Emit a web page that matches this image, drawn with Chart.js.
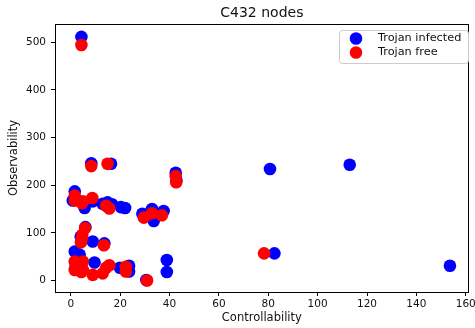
<!DOCTYPE html>
<html>
<head>
<meta charset="utf-8">
<script src="https://cdn.jsdelivr.net/npm/chart.js@4.4.1/dist/chart.umd.min.js"></script>
<style>
  html, body { margin: 0; padding: 0; background: #fff; }
  #wrap { width: 475px; height: 328px; }
</style>
</head>
<body>
<div id="wrap"><canvas id="grafico" width="475" height="328"></canvas></div>
<script>
// dati: [controllability, observability]
var infetti = [
  [4.3, 511], [8.3, 246], [16.3, 245], [42.5, 226], [42.8, 210], [80.7, 234], [113, 243],
  [1.6, 187], [0.8, 168], [5.6, 152], [8.9, 166], [12.9, 161], [14.9, 164], [16.7, 160],
  [20.3, 154], [22, 152], [29, 140], [32.9, 150], [33.6, 125], [37.6, 146],
  [5.9, 112], [4, 92], [8.9, 82], [13.6, 78],
  [1.6, 61], [3.6, 54], [9.6, 38], [19.9, 27], [23.6, 31], [23.6, 19],
  [38.9, 43], [38.9, 18], [82.5, 57], [153.6, 31], [30.6, 1], [2, 30], [4.3, 35]
];
var liberi = [
  [4.3, 494], [8.3, 240], [14.9, 245], [42.5, 219], [42.7, 206],
  [1.6, 178], [1.6, 168], [4.9, 166], [8.7, 173], [4.5, 162], [14.3, 157], [15.6, 151],
  [29.6, 132], [32.9, 141], [36.9, 137],
  [5.8, 110], [4.7, 96], [4.3, 85], [4.1, 80], [13.4, 74],
  [1.6, 40], [4.9, 40], [1.6, 22], [4.9, 22], [3.3, 30], [4.3, 18], [8.9, 12],
  [12.9, 15], [14.3, 27], [15.6, 32], [22.3, 29], [22.3, 19],
  [30.9, 0], [78.3, 57]
];
var tickX = [0, 20, 40, 60, 80, 100, 120, 140, 160];
var tickY = [0, 100, 200, 300, 400, 500];
var nomiSerie = ['Trojan infected', 'Trojan free'];
var titolo = 'C432 nodes';

var FONT = 'DejaVu Sans';
var BLU = '#0000ff';
var ROSSO = '#ff0000';

function punti(arr) {
  return arr.map(p => ({ x: p[0], y: p[1] }));
}

// titolo, cornice e legenda disegnati a mano (come matplotlib)
var extra = {
  id: 'extra',
  afterDraw: function (chart) {
    var ctx = chart.ctx;
    var a = chart.chartArea;
    ctx.save();
    ctx.strokeStyle = '#000';
    ctx.lineWidth = 1;
    ctx.strokeRect(Math.round(a.left) + 0.5, Math.round(a.top) + 0.5,
      Math.round(a.right - a.left) - 1, Math.round(a.bottom - a.top));

    ctx.fillStyle = '#111';
    ctx.font = '14px "' + FONT + '"';
    ctx.textAlign = 'center';
    ctx.textBaseline = 'middle';
    ctx.fillText(titolo, (a.left + a.right) / 2, 13);

    // legenda
    ctx.fillStyle = 'rgba(255,255,255,0.8)';
    ctx.strokeStyle = '#cccccc';
    ctx.beginPath();
    ctx.roundRect(339.5, 30.5, 129, 33, 3);
    ctx.fill();
    ctx.stroke();
    var colori = [BLU, ROSSO];
    ctx.font = '11.3px "' + FONT + '"';
    ctx.textAlign = 'left';
    for (var i = 0; i < nomiSerie.length; i++) {
      var y = 38.5 + i * 14;
      ctx.fillStyle = colori[i];
      ctx.beginPath();
      ctx.arc(356, y, 6.3, 0, Math.PI * 2);
      ctx.fill();
      ctx.fillStyle = '#111';
      ctx.fillText(nomiSerie[i], 378, y);
    }
    ctx.restore();
  }
};

var ctx = document.getElementById('grafico').getContext('2d');
var grafico = new Chart(ctx, {
  type: 'scatter',
  data: {
    datasets: [{
      label: nomiSerie[0],
      data: punti(infetti),
      backgroundColor: BLU,
      pointRadius: 6.3,
      borderWidth: 0,
      order: 1
    }, {
      label: nomiSerie[1],
      data: punti(liberi),
      backgroundColor: ROSSO,
      pointRadius: 6.3,
      borderWidth: 0,
      order: 0
    }]
  },
  options: {
    responsive: false,
    animation: false,
    layout: { padding: { top: 24, right: 1, left: 0, bottom: 0 } },
    plugins: {
      legend: { display: false },
      title: { display: false },
      tooltip: { enabled: false }
    },
    scales: {
      x: {
        type: 'linear',
        min: -6.4,
        max: 161.2,
        afterBuildTicks: s => { s.ticks = tickX.map(v => ({ value: v })); },
        afterFit: s => { s.height = 36; s.paddingLeft = 0; s.paddingRight = 0; },
        border: { display: false },
        grid: { drawOnChartArea: false, drawTicks: true, tickLength: 4, color: '#000' },
        ticks: { color: '#111', padding: 2, maxRotation: 0, font: { family: FONT, size: 10.5 } },
        title: {
          display: true, text: 'Controllability', color: '#111',
          font: { family: FONT, size: 11.5 }, padding: { top: 0, bottom: 3 }
        }
      },
      y: {
        type: 'linear',
        min: -24,
        max: 538,
        afterBuildTicks: s => { s.ticks = tickY.map(v => ({ value: v })); },
        afterFit: s => { s.width = 55; s.paddingTop = 0; s.paddingBottom = 0; },
        border: { display: false },
        grid: { drawOnChartArea: false, drawTicks: true, tickLength: 4, color: '#000' },
        ticks: { color: '#111', padding: 5, font: { family: FONT, size: 10.5 } },
        title: {
          display: true, text: 'Observability', color: '#111',
          font: { family: FONT, size: 11.5 }, padding: { top: 7, bottom: 0 }
        }
      }
    }
  },
  plugins: [extra]
});
</script>
</body>
</html>
